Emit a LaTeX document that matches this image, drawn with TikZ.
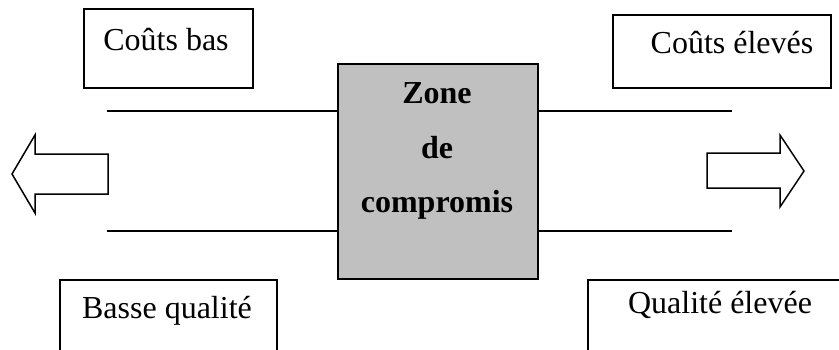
\documentclass[tikz,border=0pt]{standalone}
\usepackage{fontspec}
\setmainfont{Liberation Serif}
\usetikzlibrary{positioning}
\tikzset{
  boite/.style={draw, line width=1.8pt, inner sep=0pt, anchor=north west},
  texte/.style={anchor=base, inner sep=0pt, font=\fontsize{32}{38}\selectfont},
  gras/.style={texte, font=\fontsize{32}{38}\selectfont\bfseries},
  trait/.style={line width=2pt},
  fleche/.style={line width=1.5pt, line join=miter}
}
\begin{document}
\begin{tikzpicture}[x=1pt, y=-1pt]

  % Cadre
  \useasboundingbox (0,0) rectangle (839,349);
  \clip (0,0) rectangle (839,349);

  % Zone centrale
  \node[boite, fill={rgb,255:red,192;green,192;blue,192}, minimum width=200pt, minimum height=215pt] (zc) at (337,63) {};
  \node[gras] (zone) at (437,103) {Zone};
  \node[gras] (de) at (437,158) {de};
  \node[gras] (comp) at (437,212) {compromis};

  % Boites
  \node[boite, minimum width=169pt, minimum height=79pt] (cb) at (83,8) {};
  \node[boite, minimum width=218pt, minimum height=73pt] (ce) at (612,14) {};
  \node[boite, minimum width=217pt, minimum height=90pt] (bq) at (59,279) {};
  \node[boite, minimum width=270pt, minimum height=90pt] (qe) at (587,279) {};

  % Textes des boites
  \node[texte] (tcb) at (166,50) {Coûts bas};
  \node[texte] (tce) at (732,53) {Coûts élevés};
  \node[texte] (tbq) at (167,318) {Basse qualité};
  \node[texte] (tqe) at (720,313) {Qualité élevée};

  % Traits horizontaux
  \coordinate (hg) at (107,111);
  \coordinate (hd) at (732,111);
  \coordinate (bg) at (107,231);
  \coordinate (bd) at (732,231);
  \draw[trait] (hg) -- (hg -| zc.west);
  \draw[trait] (hd -| zc.east) -- (hd);
  \draw[trait] (bg) -- (bg -| zc.west);
  \draw[trait] (bd -| zc.east) -- (bd);

  % Fleches
  \draw[fleche] (12,174) -- (35,135) -- (35,154) -- (108,154) -- (108,194)
    -- (35,194) -- (35,213) -- cycle;
  \draw[fleche] (804,171) -- (780,135) -- (780,153) -- (707,153) -- (707,188)
    -- (780,188) -- (780,207) -- cycle;

\end{tikzpicture}
\end{document}
